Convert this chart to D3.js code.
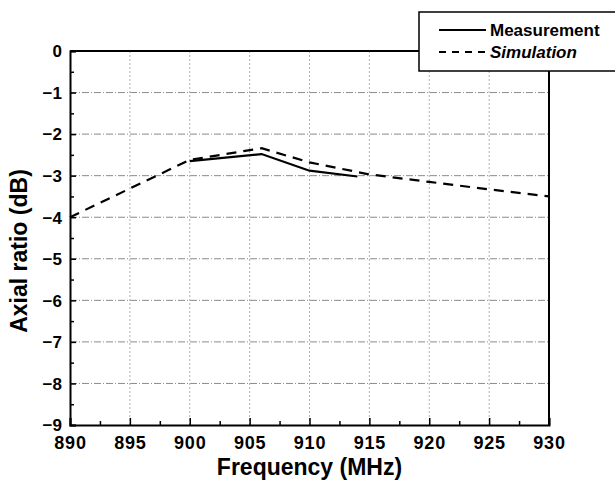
<!DOCTYPE html>
<html>
<head>
<meta charset="utf-8">
<script src="https://cdn.jsdelivr.net/npm/d3@7"></script>
<style>
  html, body { margin: 0; padding: 0; background: #fff; }
  svg { display: block; }
  svg text { font-family: "Liberation Sans", Arial, sans-serif; font-weight: 700; fill: #000; }
</style>
</head>
<body>
<svg id="chart" width="615" height="493"></svg>
<script>
// Axial ratio vs frequency
const xTicks = [890, 895, 900, 905, 910, 915, 920, 925, 930];
const yTicks = [0, -1, -2, -3, -4, -5, -6, -7, -8, -9];

const measFreq = [900, 906, 910, 914];
const measAR   = [-2.65, -2.48, -2.88, -3.02];

const simFreq = [890, 900, 906, 910, 915, 920, 925, 930];
const simAR   = [-4.0, -2.62, -2.34, -2.68, -2.97, -3.15, -3.33, -3.5];

const seriesNames = ["Measurement", "Simulation"];

const svg = d3.select("#chart");
const plotL = 70, plotR = 549, plotT = 51, plotB = 425;

const x = d3.scaleLinear().domain([890, 930]).range([plotL, plotR]);
const y = d3.scaleLinear().domain([-9, 0]).range([plotB, plotT]);

// grid
const grid = svg.append("g").attr("stroke", "#8a8a8a").attr("stroke-width", 1)
  .attr("stroke-dasharray", "7,2,1,2");
grid.selectAll("line.h").data(yTicks.filter(v => v < 0 && v > -9)).join("line")
  .attr("class", "h")
  .attr("x1", plotL).attr("x2", plotR)
  .attr("y1", d => y(d)).attr("y2", d => y(d));
grid.selectAll("line.v").data(xTicks.filter(v => v > 890 && v < 930)).join("line")
  .attr("class", "v")
  .attr("stroke", "#b0b0b0")
  .attr("stroke-dasharray", "2,2")
  .attr("x1", d => x(d)).attr("x2", d => x(d))
  .attr("y1", plotT).attr("y2", plotB);

// axes (ticks pointing inward)
const minorX = d3.range(892.5, 930, 5);
const minorY = d3.range(-8.5, 0, 1);

const xAxis = svg.append("g").attr("transform", `translate(0,${plotB})`)
  .attr("font-family", null).attr("font-size", null)
  .call(d3.axisBottom(x).tickValues(xTicks).tickSize(-7).tickPadding(15).tickFormat(d3.format("d")));
xAxis.selectAll(".tick text")
  .style("font-size", "18px").style("font-weight", "700").style("letter-spacing", "0.8px")
  .attr("dy", "0.5em");
svg.append("g").attr("transform", `translate(0,${plotB})`)
  .call(d3.axisBottom(x).tickValues(minorX).tickSize(-4).tickFormat(""))
  .select(".domain").remove();

const yAxis = svg.append("g").attr("transform", `translate(${plotL},0)`)
  .call(d3.axisLeft(y).tickValues(yTicks).tickSize(-6).tickPadding(8).tickFormat(d3.format("d")));
yAxis.selectAll(".tick text")
  .style("font-size", "17px").style("font-weight", "700").attr("dy", "0.34em");
svg.append("g").attr("transform", `translate(${plotL},0)`)
  .call(d3.axisLeft(y).tickValues(minorY).tickSize(-4).tickFormat(""))
  .select(".domain").remove();

svg.selectAll(".domain").attr("stroke-width", 2).attr("stroke", "#000");
svg.selectAll(".tick line").attr("stroke-width", 1.5).attr("stroke", "#000");

// top and right frame
svg.append("line").attr("x1", plotL).attr("x2", plotR).attr("y1", plotT).attr("y2", plotT)
  .attr("stroke", "#000").attr("stroke-width", 2);
svg.append("line").attr("x1", plotR).attr("x2", plotR).attr("y1", plotT).attr("y2", plotB)
  .attr("stroke", "#000").attr("stroke-width", 2);

// series
const line = d3.line().x(d => x(d[0])).y(d => y(d[1]));
svg.append("path").datum(simFreq.map((f, i) => [f, simAR[i]]))
  .attr("d", line).attr("fill", "none").attr("stroke", "#000")
  .attr("stroke-width", 2.2).attr("stroke-dasharray", "10,7");
svg.append("path").datum(measFreq.map((f, i) => [f, measAR[i]]))
  .attr("d", line).attr("fill", "none").attr("stroke", "#000")
  .attr("stroke-width", 2.2);

// axis titles
svg.append("text").attr("x", (plotL + plotR) / 2).attr("y", 475)
  .attr("text-anchor", "middle").style("font-size", "23px")
  .text("Frequency (MHz)");
svg.append("text").attr("transform", "translate(27,251) rotate(-90)")
  .attr("text-anchor", "middle").style("font-size", "23px")
  .text("Axial ratio (dB)");

// legend
const lg = svg.append("g");
lg.append("rect").attr("x", 419).attr("y", 12).attr("width", 200).attr("height", 59)
  .attr("fill", "#fff").attr("stroke", "#000").attr("stroke-width", 1.5);
const lgItems = [
  { name: seriesNames[0], dash: null, italic: false, y: 30 },
  { name: seriesNames[1], dash: "7,6", italic: true, y: 52 }
];
lgItems.forEach(it => {
  lg.append("line").attr("x1", 439).attr("x2", 486).attr("y1", it.y).attr("y2", it.y)
    .attr("stroke", "#000").attr("stroke-width", 2)
    .attr("stroke-dasharray", it.dash);
  lg.append("text").attr("x", 490).attr("y", it.y).attr("dy", "0.36em")
    .style("font-size", "17px")
    .style("font-style", it.italic ? "italic" : "normal")
    .text(it.name);
});
</script>
</body>
</html>
